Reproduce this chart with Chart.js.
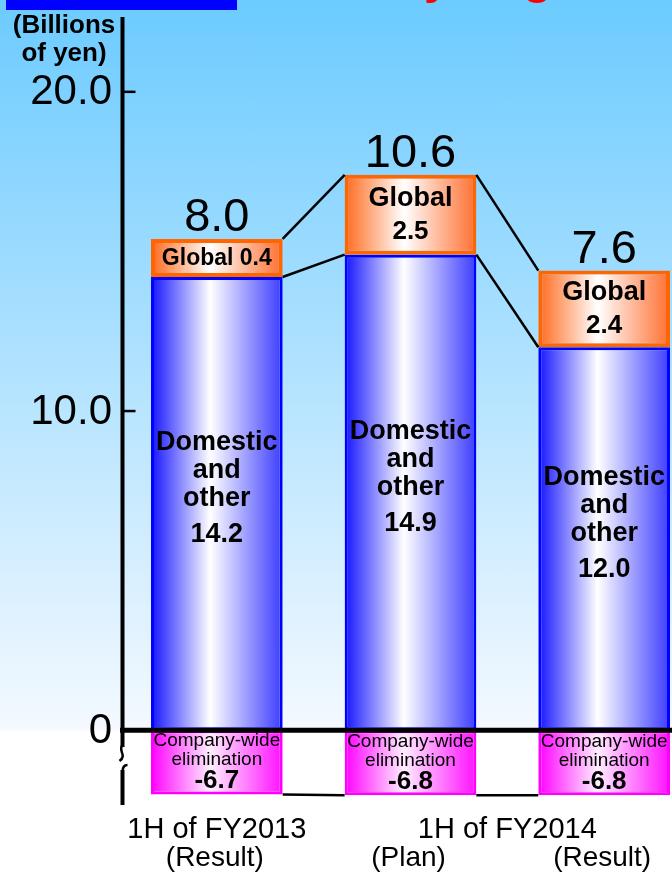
<!DOCTYPE html>
<html>
<head>
<meta charset="utf-8">
<script src="https://cdn.jsdelivr.net/npm/chart.js@4.4.1/dist/chart.umd.min.js"></script>
<style>
  html, body { margin: 0; padding: 0; }
  body {
    width: 672px; height: 875px; overflow: hidden; position: relative;
    background: linear-gradient(to bottom, #6ccbff 0px, #f4f9ff 728px, #ffffff 733px, #ffffff 875px);
  }
  #header-bar { position: absolute; left: 6px; top: 0; width: 231px; height: 10px; background: #0000ff; }
  #wrap { position: absolute; left: 0; top: 0; width: 702px; height: 875px; }
</style>
</head>
<body>
<div id="header-bar"></div>
<div id="wrap"><canvas id="segChart" width="702" height="875"></canvas></div>
<script>
// data (billions of yen)
const CATEGORIES = ['1H of FY2013 (Result)', '1H of FY2014 (Plan)', '1H of FY2014 (Result)'];
const PERIOD_LABELS = ['1H of FY2013', '1H of FY2014', '1H of FY2014'];
const STATUS_LABELS = ['(Result)', '(Plan)', '(Result)'];
const DOMESTIC = [14.2, 14.9, 12.0];
const GLOBAL = [0.4, 2.5, 2.4];
const ELIMINATION = [-6.7, -6.8, -6.8];
const TOTALS = [8.0, 10.6, 7.6];
const Y_TICKS = [0, 10, 20];

// the axis is broken below zero, so the elimination part is drawn compressed
const BREAK_RATIO = 0.3;
const BAR_PCT = 0.68;
const FONT = '"Liberation Sans", Arial, sans-serif';

function barGradient(edgeL, mid, edgeR) {
  return (ctx) => {
    const chart = ctx.chart;
    if (!chart.chartArea || ctx.dataIndex == null) return edgeL;
    const xs = chart.scales.x;
    const cx = xs.getPixelForValue(ctx.dataIndex);
    const half = xs.width / CATEGORIES.length * BAR_PCT / 2;
    const g = chart.ctx.createLinearGradient(cx - half, 0, cx + half, 0);
    g.addColorStop(0, edgeL);
    g.addColorStop(0.45, mid);
    g.addColorStop(1, edgeR);
    return g;
  };
}

function text(ctx, str, x, y, font, align, base) {
  ctx.font = font;
  ctx.textAlign = align || 'center';
  ctx.textBaseline = base || 'middle';
  ctx.fillText(str, x, y);
}

const decorPlugin = {
  id: 'decor',
  afterDatasetsDraw(chart) {
    const ctx = chart.ctx;
    const ys = chart.scales.y;
    const area = chart.chartArea;
    const dom = chart.getDatasetMeta(0).data;
    const glo = chart.getDatasetMeta(1).data;
    const eli = chart.getDatasetMeta(2).data;
    const y0 = ys.getPixelForValue(0);
    const axisX = area.left + 2.5;

    ctx.save();
    ctx.fillStyle = '#000';
    ctx.strokeStyle = '#000';

    // connector lines between neighbouring bars
    ctx.lineWidth = 2.5;
    for (let i = 0; i < CATEGORIES.length - 1; i++) {
      const pairs = [[glo[i], glo[i + 1]], [dom[i], dom[i + 1]], [eli[i], eli[i + 1]]];
      pairs.forEach(([a, b]) => {
        ctx.beginPath();
        ctx.moveTo(a.x + a.width / 2, a.y);
        ctx.lineTo(b.x - b.width / 2, b.y);
        ctx.stroke();
      });
    }

    // y axis with break
    ctx.lineWidth = 4;
    ctx.beginPath();
    ctx.moveTo(axisX, 17);
    ctx.lineTo(axisX, 747);
    ctx.stroke();
    ctx.lineWidth = 2.5;
    ctx.beginPath();
    ctx.moveTo(axisX, 745);
    ctx.bezierCurveTo(axisX - 5, 751, axisX + 5, 755, axisX - 3, 761);
    ctx.stroke();
    ctx.beginPath();
    ctx.moveTo(axisX + 5, 765);
    ctx.quadraticCurveTo(axisX, 765, axisX, 772);
    ctx.stroke();
    ctx.lineWidth = 4;
    ctx.beginPath();
    ctx.moveTo(axisX, 770);
    ctx.lineTo(axisX, 805);
    ctx.stroke();

    // zero line
    ctx.lineWidth = 5;
    ctx.beginPath();
    ctx.moveTo(area.left, y0);
    ctx.lineTo(area.right, y0);
    ctx.stroke();

    // ticks and tick labels
    Y_TICKS.forEach(v => {
      const py = ys.getPixelForValue(v);
      if (v !== 0) {
        ctx.lineWidth = 2.5;
        ctx.beginPath();
        ctx.moveTo(axisX, py);
        ctx.lineTo(axisX + 13, py);
        ctx.stroke();
      }
      text(ctx, v === 0 ? '0' : v.toFixed(1), 112, py + 1, '42px ' + FONT, 'right');
    });

    // unit
    text(ctx, '(Billions', 64, 26, 'bold 26px ' + FONT);
    text(ctx, 'of yen)', 64, 54, 'bold 26px ' + FONT);

    for (let i = 0; i < CATEGORIES.length; i++) {
      const d = dom[i], g = glo[i], e = eli[i];

      // totals above the bars
      text(ctx, TOTALS[i].toFixed(1), g.x, g.y - 8, '47px ' + FONT, 'center', 'alphabetic');

      // global
      const gMid = (g.y + g.base) / 2;
      if (g.base - g.y < 50) {
        text(ctx, 'Global ' + GLOBAL[i].toFixed(1), g.x, gMid + 1, 'bold 23px ' + FONT);
      } else {
        text(ctx, 'Global', g.x, gMid - 16, 'bold 27px ' + FONT);
        text(ctx, GLOBAL[i].toFixed(1), g.x, gMid + 17, 'bold 26px ' + FONT);
      }

      // domestic
      const anchor = (d.y + d.base) / 2 - 15;
      text(ctx, 'Domestic', d.x, anchor - 46, 'bold 27px ' + FONT);
      text(ctx, 'and', d.x, anchor - 18, 'bold 27px ' + FONT);
      text(ctx, 'other', d.x, anchor + 10, 'bold 27px ' + FONT);
      text(ctx, DOMESTIC[i].toFixed(1), d.x, anchor + 46, 'bold 27px ' + FONT);

      // elimination
      const bottom = Math.max(e.y, e.base);
      text(ctx, 'Company-wide', e.x, bottom - 54, '19px ' + FONT);
      text(ctx, 'elimination', e.x, bottom - 35, '19px ' + FONT);
      text(ctx, ELIMINATION[i].toFixed(1), e.x, bottom - 14, 'bold 26px ' + FONT);
    }

    // x labels: equal neighbouring period names share one centred label
    let start = 0;
    for (let i = 1; i <= PERIOD_LABELS.length; i++) {
      if (i === PERIOD_LABELS.length || PERIOD_LABELS[i] !== PERIOD_LABELS[start]) {
        const cx = (dom[start].x + dom[i - 1].x) / 2;
        text(ctx, PERIOD_LABELS[start], cx, 838, '29px ' + FONT, 'center', 'alphabetic');
        start = i;
      }
    }
    STATUS_LABELS.forEach((s, i) => {
      text(ctx, s, dom[i].x - 2, 866, '28px ' + FONT, 'center', 'alphabetic');
    });

    // page title, cut off by the top edge
    ctx.fillStyle = '#ff0000';
    ctx.font = 'bold 48px ' + FONT;
    const w = ctx.measureText('Income b').width;
    text(ctx, 'Income by Segment', 424 - w, -7, 'bold 48px ' + FONT, 'left', 'alphabetic');

    ctx.restore();
  }
};

const chart = new Chart(document.getElementById('segChart'), {
  type: 'bar',
  data: {
    labels: CATEGORIES,
    datasets: [
      {
        label: 'Domestic and other',
        data: DOMESTIC,
        backgroundColor: barGradient('#1414ff', '#ffffff', '#3c3cff'),
        borderColor: '#0000ff',
        borderWidth: 3
      },
      {
        label: 'Global',
        data: GLOBAL,
        minBarLength: 38,
        backgroundColor: barGradient('#ff6a1e', '#ffffff', '#ff6f30'),
        borderColor: '#ff6600',
        borderWidth: 4
      },
      {
        label: 'Company-wide elimination',
        data: ELIMINATION.map(v => v * BREAK_RATIO),
        backgroundColor: barGradient('#ff00ff', '#ffeeff', '#ff10ff'),
        borderColor: '#ff00ff',
        borderWidth: 3
      }
    ]
  },
  options: {
    responsive: false,
    animation: false,
    datasets: {
      bar: { barPercentage: BAR_PCT, categoryPercentage: 1, borderSkipped: false, stack: 's' }
    },
    layout: { padding: { left: 120, right: 1, top: 28, bottom: 49 } },
    scales: {
      x: { display: false, stacked: true },
      y: { display: false, stacked: true, min: -3, max: 22 }
    },
    plugins: { legend: { display: false }, tooltip: { enabled: false } }
  },
  plugins: [decorPlugin]
});
chart.update();
</script>
</body>
</html>
